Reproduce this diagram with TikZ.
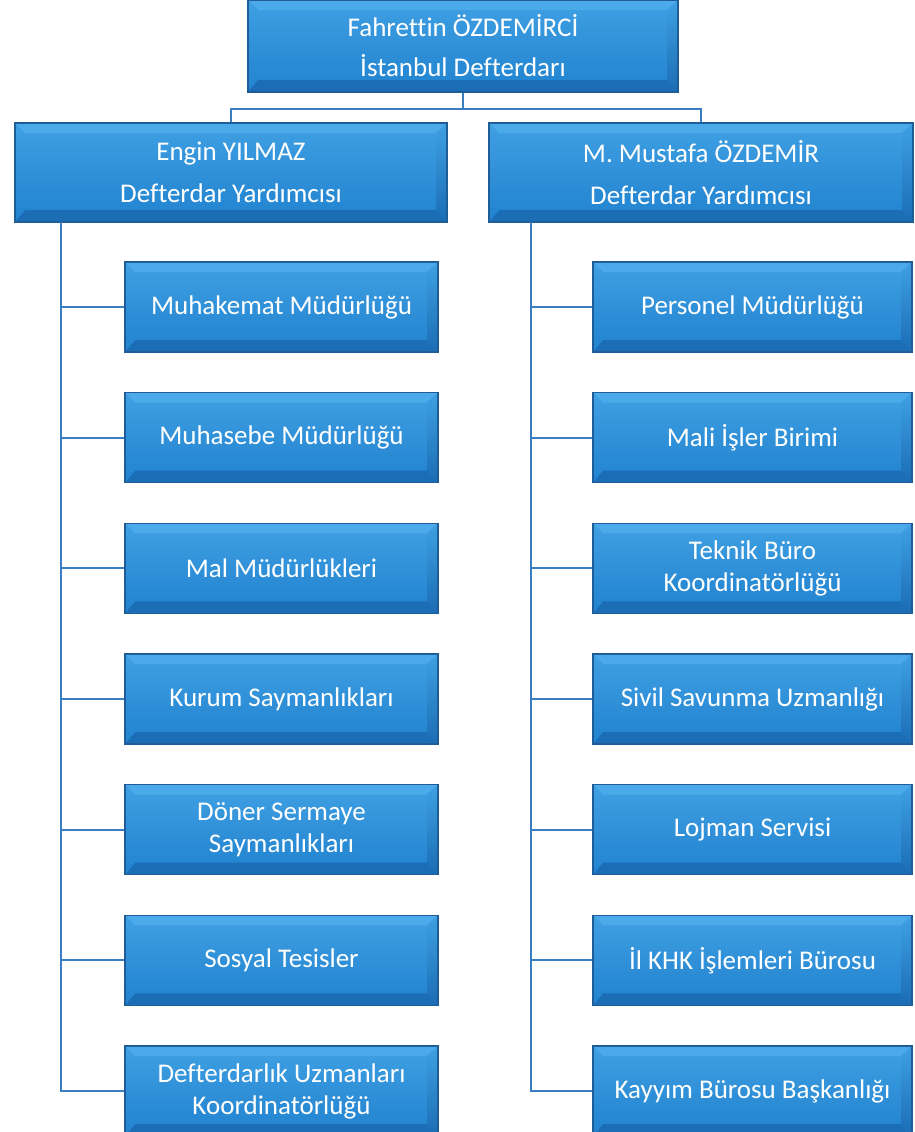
\documentclass[tikz,border=0pt]{standalone}
\usepackage{fontspec}
\setmainfont{Carlito}[Ligatures=NoCommon]
\definecolor{boxline}{HTML}{1F5D98}
\definecolor{boxtop}{HTML}{3FA0E3}
\definecolor{boxbot}{HTML}{2182CF}
\definecolor{bevtop}{HTML}{4DAAEA}
\definecolor{bevbottom}{HTML}{1B6DB5}
\definecolor{bevlight}{HTML}{B4E4F9}
\definecolor{linkcol}{HTML}{3A7DC2}
\tikzset{
  bevelbox/.style={rectangle, draw=boxline, line width=1.2pt, top color=boxtop, bottom color=boxbot,
    text=white, inner sep=0pt, align=center,
    path picture={
      \path (path picture bounding box.north west) coordinate (bNW)
            (path picture bounding box.north east) coordinate (bNE)
            (path picture bounding box.south west) coordinate (bSW)
            (path picture bounding box.south east) coordinate (bSE);
      \fill[bevtop] (bNW) -- (bNE) -- ([shift={(-11pt,-10pt)}]bNE) -- ([shift={(10pt,-10pt)}]bNW) -- cycle;
      \fill[bevbottom] (bSW) -- (bSE) -- ([shift={(-11pt,12pt)}]bSE) -- ([shift={(10pt,12pt)}]bSW) -- cycle;
      \shade[top color=boxtop, middle color=bevlight, bottom color=boxbot]
            (bNW) -- ([shift={(10pt,-10pt)}]bNW) -- ([shift={(10pt,12pt)}]bSW) -- (bSW) -- cycle;
      \shade[top color=boxtop, middle color=bevlight!80!boxtop, bottom color=bevbottom]
            (bNE) -- ([shift={(-11pt,-10pt)}]bNE) -- ([shift={(-11pt,12pt)}]bSE) -- (bSE) -- cycle;
    }},
  headbox/.style={bevelbox, minimum width=430pt, minimum height=92pt, font=\fontsize{27}{40}\selectfont},
  deputybox/.style={bevelbox, minimum height=99pt, font=\fontsize{27}{42}\selectfont},
  unitL/.style={bevelbox, minimum width=313pt, minimum height=90pt, font=\fontsize{27}{32}\selectfont},
  unitR/.style={bevelbox, minimum width=319pt, minimum height=90pt, font=\fontsize{27}{32}\selectfont},
  link/.style={draw=linkcol, line width=2.2pt}
}
\begin{document}
\begin{tikzpicture}[x=1pt, y=-1pt]
  \useasboundingbox (0,0) rectangle (915,1132);

  \node[headbox] (head) at (463,46) {Fahrettin ÖZDEMİRCİ\\İstanbul Defterdarı};
  \node[deputybox, minimum width=432pt] (depL) at (231,172.5) {Engin YILMAZ\\Defterdar Yardımcısı};
  \node[deputybox, minimum width=424pt] (depR) at (701,172.5) {M. Mustafa ÖZDEMİR\\Defterdar Yardımcısı};

  % left branch
  \node[unitL] (l1) at (281.5,307) {Muhakemat Müdürlüğü};
  \node[unitL] (l2) at (281.5,437.7) {Muhasebe Müdürlüğü};
  \node[unitL] (l3) at (281.5,568.3) {Mal Müdürlükleri};
  \node[unitL] (l4) at (281.5,699) {Kurum Saymanlıkları};
  \node[unitL] (l5) at (281.5,829.7) {Döner Sermaye\\Saymanlıkları};
  \node[unitL] (l6) at (281.5,960.3) {Sosyal Tesisler};
  \node[unitL] (l7) at (281.5,1091) {Defterdarlık Uzmanları\\Koordinatörlüğü};

  % right branch
  \node[unitR] (r1) at (752.5,307) {Personel Müdürlüğü};
  \node[unitR] (r2) at (752.5,437.7) {Mali İşler Birimi};
  \node[unitR] (r3) at (752.5,568.3) {Teknik Büro\\Koordinatörlüğü};
  \node[unitR] (r4) at (752.5,699) {Sivil Savunma Uzmanlığı};
  \node[unitR] (r5) at (752.5,829.7) {Lojman Servisi};
  \node[unitR] (r6) at (752.5,960.3) {İl KHK İşlemleri Bürosu};
  \node[unitR] (r7) at (752.5,1091) {Kayyım Bürosu Başkanlığı};

  \coordinate (trunkL) at (61,222);
  \coordinate (trunkR) at (531,222);

  \draw[link] (head.south) -- ++(0,16) -| (depL.north);
  \draw[link] (head.south) -- ++(0,16) -| (depR.north);

  \draw[link] (trunkL) |- (l1.west);
  \draw[link] (trunkL) |- (l2.west);
  \draw[link] (trunkL) |- (l3.west);
  \draw[link] (trunkL) |- (l4.west);
  \draw[link] (trunkL) |- (l5.west);
  \draw[link] (trunkL) |- (l6.west);
  \draw[link] (trunkL) |- (l7.west);

  \draw[link] (trunkR) |- (r1.west);
  \draw[link] (trunkR) |- (r2.west);
  \draw[link] (trunkR) |- (r3.west);
  \draw[link] (trunkR) |- (r4.west);
  \draw[link] (trunkR) |- (r5.west);
  \draw[link] (trunkR) |- (r6.west);
  \draw[link] (trunkR) |- (r7.west);
\end{tikzpicture}
\end{document}
